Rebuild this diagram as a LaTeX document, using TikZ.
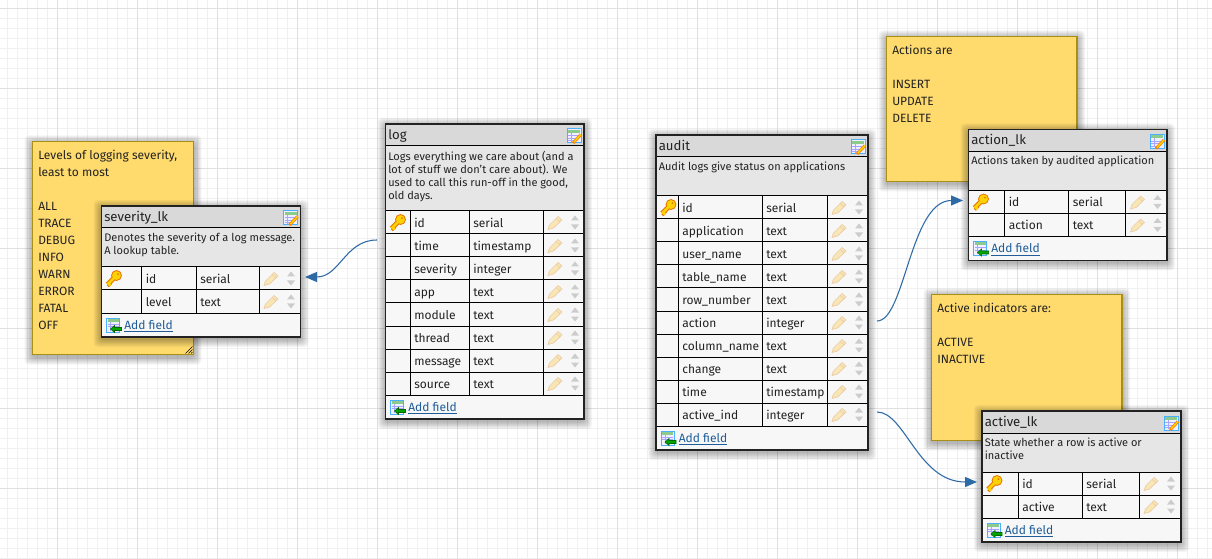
\documentclass[tikz,border=0pt]{standalone}
\usepackage{fontspec}
\setmainfont{Fira Sans}
\usepackage{xcolor}
\usetikzlibrary{arrows.meta,positioning}

\definecolor{notefill}{HTML}{FFDB6E}
\definecolor{noteline}{HTML}{A89016}
\definecolor{headfill}{HTML}{D9D9D9}
\definecolor{descfill}{HTML}{E6E6E6}
\definecolor{rowfill}{HTML}{F7F7F7}
\definecolor{linkblue}{HTML}{1F5C99}
\definecolor{arrowblue}{HTML}{2E6AA6}
\definecolor{inktext}{HTML}{222222}
\definecolor{penfill}{HTML}{F8E6B4}
\definecolor{penline}{HTML}{EBCBA6}

\def\pxu{0.75pt}

\tikzset{
  gridminor/.style={draw=black!6, line width=0.75pt},
  gridmajor/.style={draw=black!12, line width=0.75pt},
  softedge/.style={fill=black, opacity=0.04, rounded corners=3pt},
  notebox/.style={draw=noteline, fill=notefill, line width=0.9pt, inner sep=0pt, outer sep=0pt, anchor=north west},
  notetext/.style={inner sep=0pt, anchor=north west, align=left, text=inktext, font=\fontsize{9}{12.75}\selectfont},
  tablebox/.style={draw=inktext, line width=0.9pt, inner sep=0pt, outer sep=0pt, anchor=north west},
  headbox/.style={fill=headfill, inner sep=0pt, outer sep=0pt, anchor=north west},
  descbox/.style={fill=descfill, inner sep=0pt, outer sep=0pt, anchor=north west},
  rowbox/.style={draw=black, fill=rowfill, line width=0.75pt, inner sep=0pt, outer sep=0pt, anchor=north west},
  footbox/.style={fill=rowfill, inner sep=0pt, outer sep=0pt, anchor=north west},
  cell/.style={inner sep=0pt, anchor=base west, text=inktext, font=\fontsize{9}{9.75}\selectfont},
  titletext/.style={inner sep=0pt, anchor=base west, text=inktext, font=\fontsize{9.9}{10}\selectfont},
  desctext/.style={inner sep=0pt, anchor=north west, align=left, text=inktext, font=\fontsize{8.25}{9.75}\selectfont},
  linktext/.style={inner sep=0pt, anchor=base west, text=linkblue, font=\fontsize{9}{9.75}\selectfont},
  relation/.style={draw=arrowblue, line width=0.8pt, -{Triangle[length=9pt,width=7.5pt]}},
  keyicon/.pic={
    \draw[line width=3.6pt, draw=orange!90!black] (1,-1) -- (-6,6) (-5,5) -- (-3,7);
    \fill[draw=orange!90!black, fill=yellow!70!orange, line width=0.6pt] (3,-3) circle (5);
    \draw[line width=2pt, draw=yellow!70!orange] (1,-1) -- (-6,6) (-5,5) -- (-3,7);
    \fill[orange!90!black] (4.4,-4.4) circle (1);
  },
  penicon/.pic={
    \draw[fill=penfill, draw=penline, line width=0.5pt]
      (-7,7) -- (-5.5,2.5) -- (3,-6) -- (7,-2.5) -- (-1.5,5.5) -- cycle;
    \draw[draw=penline, line width=0.5pt] (1.2,-4.2) -- (5,-0.6);
  },
  updownicon/.pic={
    \fill[black!20] (-4,-2) -- (4,-2) -- (0,-7) -- cycle;
    \fill[black!20] (-4,2) -- (4,2) -- (0,7) -- cycle;
  },
  editicon/.pic={
    \draw[fill=blue!6, draw=blue!45!cyan!70, line width=0.75pt] (-7,-7) rectangle (7,7);
    \fill[green!55!black!45] (-6,-6) rectangle (6,-3);
    \draw[blue!35, line width=0.5pt] (-6,-0.5) -- (6,-0.5) (-6,2) -- (3,2) (-6,4.5) -- (0,4.5) (-3,-3) -- (-3,6);
    \draw[orange, line width=2.2pt] (-1,7) -- (7,-1.5);
    \draw[yellow!80!orange, line width=0.9pt] (0,6) -- (7,-1.5);
  },
  addicon/.pic={
    \draw[fill=blue!6, draw=blue!45!cyan!70, line width=0.75pt] (-7,-7) rectangle (6,7);
    \fill[green!55!black!45] (-6,-6) rectangle (5,-3.5);
    \draw[blue!35, line width=0.5pt] (-6,-1) -- (5,-1) (-6,1.5) -- (5,1.5) (-3,-3.5) -- (-3,6);
    \draw[fill=green!65!black, draw=green!40!black, line width=0.4pt]
      (-3,4) -- (1,0.5) -- (1,2.5) -- (8,2.5) -- (8,5.5) -- (1,5.5) -- (1,7.5) -- cycle;
  }
}

% blurred shadow below a box: left, top, width, height
\newcommand{\softshadow}[4]{%
  \foreach \s in {1,...,8} {
    \fill[softedge] (#1-\s,#2-\s+2) rectangle (#1+#3+\s,#2+#4+\s+2);
  }%
}

% name, left, top, width, height, text
\newcommand{\erdnote}[6]{%
  \softshadow{#2}{#3}{#4}{#5}
  \node[notebox, minimum width=#4*\pxu, minimum height=#5*\pxu] (#1) at (#2,#3) {};
  \node[notetext] (#1-text) at ([shift={(5.5,8)}]#1.north west) {#6};
}

% name, left, top, width, description height, title, description, columns, rows
\newcommand{\erdtable}[9]{%
  \foreach \fname/\ftype [count=\i] in {#9} {\xdef\nrows{\i}}
  \pgfmathsetmacro{\rowtop}{22+#5}
  \pgfmathsetmacro{\rowend}{\rowtop+23*\nrows}
  \pgfmathsetmacro{\tblh}{\rowend+24}
  \softshadow{#2}{#3}{#4}{\tblh}
  \node[footbox, minimum width=#4*\pxu, minimum height=\tblh*\pxu] (#1-foot) at (#2,#3) {};
  \node[headbox, minimum width=#4*\pxu, minimum height=22*\pxu] (#1-head) at (#2,#3) {};
  \node[descbox, minimum width=#4*\pxu, minimum height=#5*\pxu] (#1-desc) at (#2,#3+22) {};
  \draw[black, line width=0.75pt] (#1-head.south west) -- (#1-head.south east);
  \node[titletext] (#1-title) at ([shift={(2.5,15.5)}]#1-head.north west) {#6};
  \node[desctext] (#1-note) at ([shift={(2.5,4.5)}]#1-desc.north west) {#7};
  \foreach \colA/\colB/\colC in {#8} {
    \foreach \fname/\ftype [count=\i] in {#9} {
      \node[rowbox, minimum width=#4*\pxu, minimum height=23*\pxu] (#1-row-\i) at (#2,#3+\rowtop+23*\i-23) {};
      \draw[black, line width=0.75pt]
        ([shift={(\colA,0)}]#1-row-\i.north west) -- ([shift={(\colA,0)}]#1-row-\i.south west)
        ([shift={(\colB,0)}]#1-row-\i.north west) -- ([shift={(\colB,0)}]#1-row-\i.south west)
        ([shift={(\colC,0)}]#1-row-\i.north west) -- ([shift={(\colC,0)}]#1-row-\i.south west);
      \node[cell] (#1-name-\i) at ([shift={(\colA+4,16.5)}]#1-row-\i.north west) {\fname};
      \node[cell] (#1-type-\i) at ([shift={(\colB+4,16.5)}]#1-row-\i.north west) {\ftype};
      \pic at ([shift={(\colC+12,11.5)}]#1-row-\i.north west) {penicon};
      \pic at ([shift={(\colC+32,11.5)}]#1-row-\i.north west) {updownicon};
    }
  }
  \pic at ([shift={(12,11.5)}]#1-row-1.north west) {keyicon};
  \pic at ([shift={(-10,12)}]#1-head.north east) {editicon};
  \pic at (#2+12,#3+\rowend+12) {addicon};
  \node[linktext] (#1-add) at (#2+22.5,#3+\rowend+16.5) {\underline{Add field}};
  \node[tablebox, minimum width=#4*\pxu, minimum height=\tblh*\pxu] (#1) at (#2,#3) {};
}

\begin{document}
\begin{tikzpicture}[x=0.75pt, y=-0.75pt]
  \useasboundingbox (0,0) rectangle (1212,559);
  \fill[white] (0,0) rectangle (1212,559);

  % background grid
  \foreach \gx in {0,...,120} {
    \draw[gridminor] (7.5+10*\gx,0) -- (7.5+10*\gx,559);
  }
  \foreach \gy in {0,...,55} {
    \draw[gridminor] (0,8.5+10*\gy) -- (1212,8.5+10*\gy);
  }
  \foreach \gx in {0,...,14} {
    \draw[gridmajor] (57.5+80*\gx,0) -- (57.5+80*\gx,559);
  }
  \foreach \gy in {0,...,6} {
    \draw[gridmajor] (0,8.5+80*\gy) -- (1212,8.5+80*\gy);
  }

  % sticky notes
  \erdnote{severitynote}{32.5}{141.5}{161}{213}{Levels of logging severity,\\least to most\\ \\ALL\\TRACE\\DEBUG\\INFO\\WARN\\ERROR\\FATAL\\OFF}
  \draw[black, line width=0.4pt]
    ([shift={(-8,-1)}]severitynote.south east) -- ([shift={(-1,-8)}]severitynote.south east)
    ([shift={(-5,-1)}]severitynote.south east) -- ([shift={(-1,-5)}]severitynote.south east)
    ([shift={(-2.5,-1)}]severitynote.south east) -- ([shift={(-1,-2.5)}]severitynote.south east);
  \erdnote{actionnote}{886.5}{36.5}{190.5}{145}{Actions are\\ \\INSERT\\UPDATE\\DELETE}
  \erdnote{activenote}{931.5}{294.5}{190.5}{146}{Active indicators are:\\ \\ACTIVE\\INACTIVE}

  % tables
  \erdtable{severity}{101.5}{206}{199}{39}{severity\_lk}{Denotes the severity of a log message.\\A lookup table.}{40/94.5/157.5}{id/serial,level/text}
  \erdtable{log}{385.5}{124}{198.5}{65}{log}{Logs everything we care about (and a\\lot of stuff we don't care about). We\\used to call this run-off in the good,\\old days.}{24.5/83.5/157.5}{id/serial,time/timestamp,severity/integer,app/text,module/text,thread/text,message/text,source/text}
  \erdtable{audit}{656}{135}{212}{39}{audit}{Audit logs give status on applications}{22/106/171}{id/serial,application/text,user\_name/text,table\_name/text,row\_number/text,action/integer,column\_name/text,change/text,time/timestamp,active\_ind/integer}
  \erdtable{action}{968.5}{129.5}{198.5}{39}{action\_lk}{Actions taken by audited application}{36/100/157}{id/serial,action/text}
  \erdtable{active}{982}{411}{199}{39}{active\_lk}{State whether a row is active or\\inactive}{36/100/157}{id/serial,active/text}

  % connector ends
  \coordinate (log-out) at (377,240);
  \coordinate (severity-in) at (305,277);
  \coordinate (audit-action-out) at (877,321);
  \coordinate (action-in) at (963,200.5);
  \coordinate (audit-active-out) at (877,412);
  \coordinate (active-in) at (977,482);

  \draw[relation] (log-out) .. controls +(-32,0) and +(35,0) .. (severity-in);
  \draw[relation] (audit-action-out) .. controls +(28,0) and +(-53,0) .. (action-in);
  \draw[relation] (audit-active-out) .. controls +(28,0) and +(-59,0) .. (active-in);
\end{tikzpicture}
\end{document}
